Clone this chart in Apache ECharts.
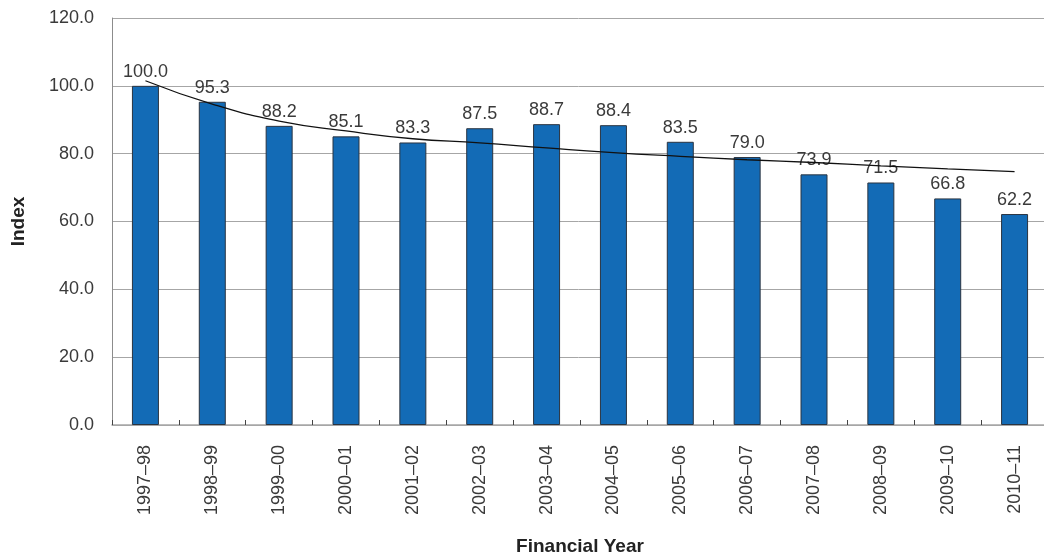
<!DOCTYPE html>
<html>
<head>
<meta charset="utf-8">
<script src="https://cdn.jsdelivr.net/npm/echarts@6/dist/echarts.min.js"></script>
<style>
  html, body { margin: 0; padding: 0; background: #fff; }
  #chart { width: 1044px; height: 555px; }
</style>
</head>
<body>
<div id="chart"></div>
<script>
// Financial years on the category axis
const years = ['1997–98', '1998–99', '1999–00', '2000–01', '2001–02', '2002–03', '2003–04',
               '2004–05', '2005–06', '2006–07', '2007–08', '2008–09', '2009–10', '2010–11'];
// Index values (1997–98 = 100)
const indexValues = [100.0, 95.3, 88.2, 85.1, 83.3, 87.5, 88.7, 88.4, 83.5, 79.0, 73.9, 71.5, 66.8, 62.2];
// Trend line values at each year
const trendValues = [101.5, 94.6, 89.6, 86.7, 84.4, 83.2, 81.7, 80.3, 79.2, 78.2, 77.4, 76.4, 75.5, 74.7];
// Value axis ticks
const yMin = 0, yMax = 120, yStep = 20;

const textColor = '#3a3a3a';
const fontFamily = '"Liberation Sans", Arial, sans-serif';

const chart = echarts.init(document.getElementById('chart'), null, { renderer: 'canvas' });
chart.setOption({
  animation: false,
  textStyle: { fontFamily: fontFamily },
  grid: { left: 112, top: 18, width: 936, bottom: 130, containLabel: false, outerBoundsMode: 'none' },
  xAxis: {
    type: 'category',
    data: years,
    name: 'Financial Year',
    nameLocation: 'middle',
    nameGap: 112,
    nameTextStyle: { fontSize: 19, fontWeight: 'bold', color: '#222', fontFamily: fontFamily },
    axisLine: { lineStyle: { color: '#a6a6a6', width: 1.5 } },
    axisTick: { show: true, inside: true, length: 5, lineStyle: { color: '#444' } },
    axisLabel: { rotate: 90, margin: 20, fontSize: 18, color: textColor, fontFamily: fontFamily }
  },
  yAxis: {
    type: 'value',
    min: yMin, max: yMax, interval: yStep,
    name: 'Index',
    nameLocation: 'middle',
    nameGap: 84,
    nameRotate: 90,
    nameTextStyle: { fontSize: 19, fontWeight: 'bold', color: '#222', fontFamily: fontFamily },
    axisLine: { show: true, lineStyle: { color: '#8c8c8c', width: 1 } },
    axisTick: { show: false },
    axisLabel: { margin: 18, fontSize: 18, color: textColor, fontFamily: fontFamily,
                 formatter: v => v.toFixed(1) },
    splitLine: { show: true, lineStyle: { color: '#a6a6a6', width: 1 } }
  },
  series: [
    {
      type: 'bar',
      data: indexValues,
      barWidth: 27,
      itemStyle: { color: '#136bb6', borderColor: '#2b3440', borderWidth: 1 },
      label: {
        show: true, position: 'top', distance: 5,
        fontSize: 18, color: textColor, fontFamily: fontFamily,
        formatter: p => p.value.toFixed(1)
      },
      z: 2
    },
    {
      type: 'line',
      data: trendValues,
      smooth: true,
      symbol: 'none',
      lineStyle: { color: '#111', width: 1.3 },
      z: 3
    }
  ]
});
</script>
</body>
</html>
